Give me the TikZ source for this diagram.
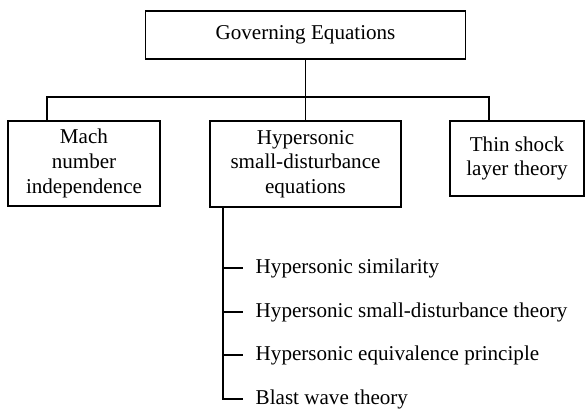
\documentclass[tikz,border=0pt]{standalone}
\usepackage{fontspec}
\setmainfont{Liberation Serif}
\usetikzlibrary{positioning}
\tikzset{every picture/.style={line width=1.1pt}}

\begin{document}
\begin{tikzpicture}
    [x=0.025cm, y=-0.025cm,
    box/.style = {rectangle, draw, align=center, inner sep=0pt,
            font=\fontsize{15}{17.5}\selectfont},
    item/.style = {anchor=west, inner xsep=8.5pt, inner ysep=0pt,
            font=\fontsize{15}{17.5}\selectfont},
    ]

\useasboundingbox (0,0) rectangle (585,410);

\node[box, minimum width=8cm, minimum height=1.2cm] (gov) at (305.5, 35) {Governing Equations};

\node[box, minimum width=3.8cm, minimum height=2.125cm] (mach) at (84, 163.5) {Mach\\number\\independence};
\node[box, minimum width=4.775cm, minimum height=2.15cm] (hsd) at (305.5, 164) {Hypersonic\\small-disturbance\\equations};
\node[box, minimum width=3.35cm, minimum height=1.875cm] (thin) at (517, 158.5) {Thin shock\\layer theory};

% tree under the top box
\coordinate (bus) at (0, 97);
\draw (gov.south) -- (gov.south |- bus);
\draw ([xshift=1cm]mach.north west) |- ([xshift=1cm]thin.north west |- bus) -- ([xshift=1cm]thin.north west);
\draw (hsd.north) -- (hsd.north |- bus);

% list hanging from the middle box
\node[item] (sim)   at (243, 268) {Hypersonic similarity};
\node[item] (sdt)   at (243, 312) {Hypersonic small-disturbance theory};
\node[item] (equiv) at (243, 355) {Hypersonic equivalence principle};
\node[item] (blast) at (243, 399) {Blast wave theory};

\coordinate (trunk) at ([xshift=0.35cm]hsd.south west);
\draw (trunk) |- (blast.west);
\draw (trunk |- sim.west) -- (sim.west);
\draw (trunk |- sdt.west) -- (sdt.west);
\draw (trunk |- equiv.west) -- (equiv.west);

\end{tikzpicture}
\end{document}
